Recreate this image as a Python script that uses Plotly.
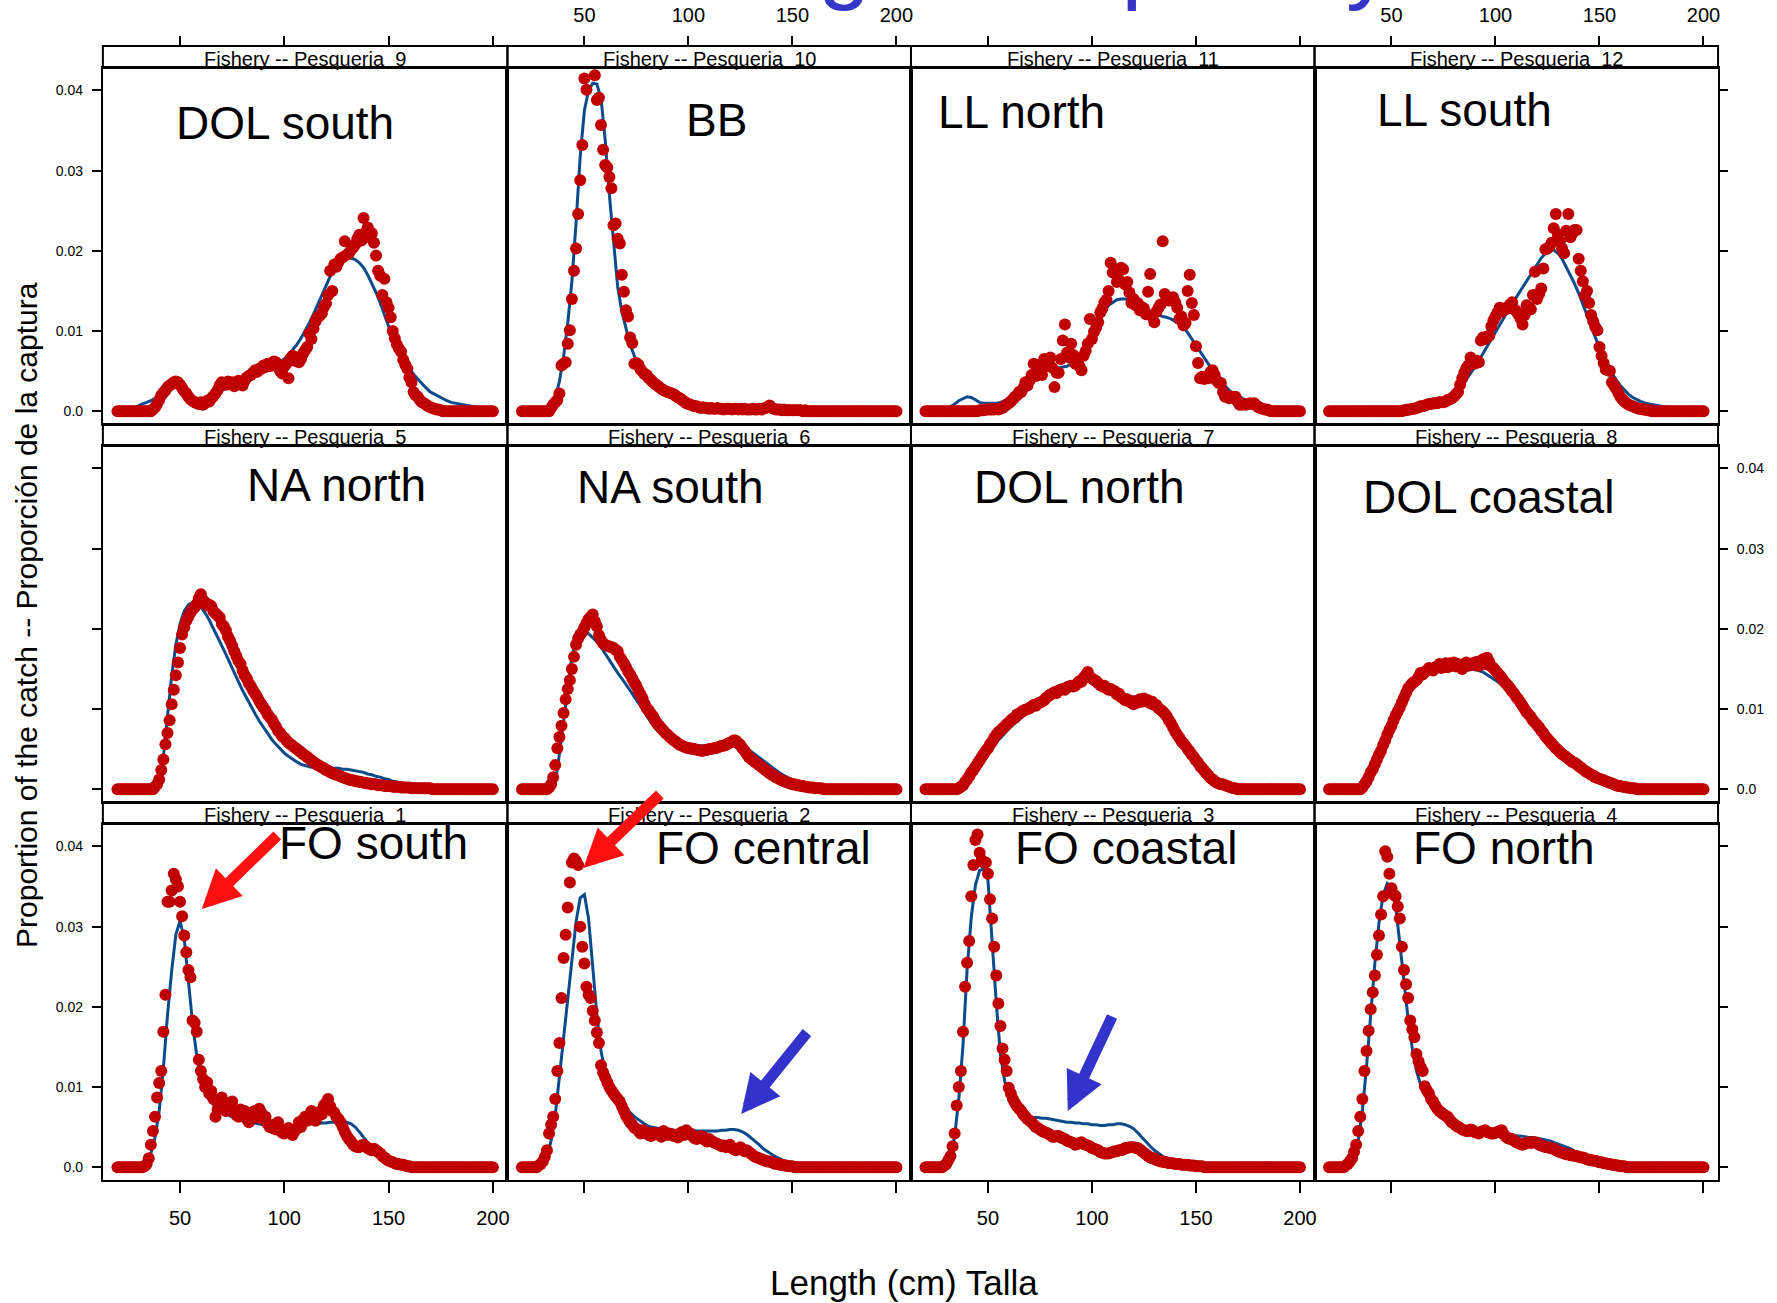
import plotly.graph_objects as go

FONT = "Liberation Sans, Arial, Helvetica, sans-serif"

# ---------------------------------------------------------------------------
# Data: proportion of the catch by length, written in units of 0.001
# ---------------------------------------------------------------------------
LENGTH_CM = list(range(20, 201))          # observed 1-cm length bins
FIT_LENGTH_CM = list(range(20, 201, 2))   # points of the fitted curve
PER_MILLE = 1000.0
X_TICKS = [50, 100, 150, 200]
Y_TICKS = [0.0, 0.01, 0.02, 0.03, 0.04]
Y_TICK_TEXT = ["0.0", "0.01", "0.02", "0.03", "0.04"]

# ---- Fishery 9 : DOL south
obs_f9 = [
    0, 0, 0, 0, 0, 0, 0, 0, 0, 0,
    0, 0, 0, 0, 0, 0, 0, 0.2, 0.5, 0.9,
    1.4, 2.0, 2.3, 2.6, 3.0, 3.2, 3.4, 3.6, 3.7, 3.6,
    3.3, 2.9, 2.5, 2.2, 1.8, 1.5, 1.3, 1.1, 1.0, 0.9,
    1.1, 0.8, 1.0, 1.3, 1.2, 1.6, 1.9, 2.2, 2.6, 3.2,
    3.6, 3.5, 3.3, 3.7, 3.4, 3.6, 3.1, 3.5, 3.8, 3.4,
    3.2, 3.8, 4.2, 4.4, 4.5, 4.8, 5.1, 4.9, 5.3, 5.3,
    5.7, 5.5, 5.9, 5.6, 5.8, 6.2, 6.1, 5.5, 5.0, 4.7,
    5.6, 5.9, 4.1, 6.6, 6.9, 6.3, 6.7, 6.1, 6.5, 7.2,
    7.6, 8.0, 9.7, 9.0, 10.3, 11.2, 11.7, 11.9, 12.2, 13.0,
    13.4, 14.5, 17.5, 15.0, 18.3, 18.0, 18.6, 19.0, 19.2, 21.2,
    19.5, 19.7, 20.1, 20.4, 20.8, 21.5, 22.0, 21.3, 24.1, 22.3,
    22.9, 21.7, 22.2, 21.0, 19.4, 17.5, 16.9, 14.5, 16.5, 13.6,
    12.9, 11.7, 10.0, 9.1, 8.3, 7.8, 7.4, 6.4, 5.8, 5.3,
    4.2, 3.6, 2.4, 2.0, 1.8, 1.4, 1.1, 1.0, 0.8, 0.6,
    0.5, 0.4, 0.3, 0.2, 0.2, 0.1, 0, 0, 0, 0,
    0, 0, 0, 0, 0, 0, 0, 0, 0, 0,
    0, 0, 0, 0, 0, 0, 0, 0, 0, 0,
    0]
fit_f9 = [
    0, 0, 0.1, 0.2, 0.4, 0.7, 0.9, 1.1, 1.3, 1.6,
    2.0, 2.5, 2.9, 3.1, 3.0, 2.7, 2.3, 1.9, 1.6, 1.5,
    1.5, 1.6, 1.8, 2.0, 2.3, 2.6, 2.9, 3.2, 3.4, 3.6,
    3.8, 4.0, 4.2, 4.4, 4.7, 4.9, 5.2, 5.5, 5.8, 6.1,
    6.5, 7.0, 7.6, 8.3, 9.1, 10.0, 11.0, 12.1, 13.3, 14.5,
    15.7, 16.8, 17.7, 18.4, 18.9, 19.1, 19.1, 18.9, 18.5, 17.9,
    17.0, 16.0, 14.8, 13.5, 12.0, 10.6, 9.3, 8.1, 7.0, 6.1,
    5.3, 4.6, 4.0, 3.4, 2.9, 2.4, 2.1, 1.8, 1.5, 1.3,
    1.1, 1.0, 0.9, 0.8, 0.7, 0.6, 0.5, 0.4, 0.4, 0.3,
    0.3]

# ---- Fishery 10 : BB  (None = no observation visible in that bin)
obs_f10 = [
    0, 0, 0, 0, 0, 0, 0, 0, 0, 0,
    0, 0, 0, 0, 0.4, 0.8, 1.1, 1.4, 2.2, 5.7,
    5.9, 6.1, 8.4, 10.1, 14.0, 17.5, 20.3, 24.6, 28.8, 33.2,
    41.5, 40.1, None, None, None, 41.9, 38.8, 39.1, 35.7, 32.6,
    30.7, 30.4, 29.2, 27.8, 23.2, 23.4, 21.5, 20.9, 17.0, 14.9,
    12.6, 11.8, 9.2, 8.5, 5.9, 6.0, 5.8, 5.2, 4.9, 4.6,
    4.5, 4.1, 3.9, 3.6, 3.4, 3.2, 3.0, 2.8, 2.6, 2.5,
    2.4, 2.3, 2.2, 2.1, 1.9, 1.7, 1.6, 1.4, 1.2, 1.0,
    0.9, 0.8, 0.7, 0.6, 0.6, 0.5, 0.4, 0.5, 0.4, 0.4,
    0.3, 0.4, 0.3, 0.3, 0.4, 0.3, 0.3, 0.2, 0.3, 0.3,
    0.3, 0.2, 0.3, 0.3, 0.2, 0.3, 0.2, 0.3, 0.2, 0.2,
    0.2, 0.3, 0.2, 0.2, 0.3, 0.2, 0.3, 0.4, 0.5, 0.7,
    0.4, 0.3, 0.2, 0.2, 0.2, 0.1, 0.2, 0.1, 0.1, 0.1,
    0.1, 0.1, 0.1, 0.1, 0.1, 0, 0.1, 0, 0, 0,
    0, 0, 0, 0, 0, 0, 0, 0, 0, 0,
    0, 0, 0, 0, 0, 0, 0, 0, 0, 0,
    0, 0, 0, 0, 0, 0, 0, 0, 0, 0,
    0, 0, 0, 0, 0, 0, 0, 0, 0, 0,
    0]
fit_f10 = [
    0, 0, 0, 0, 0, 0, 0, 0.4, 1.7, 3.7,
    6.8, 11.0, 16.2, 23.5, 31.8, 37.5, 40.0, 40.9, 40.8, 39.0,
    33.8, 27.0, 21.2, 15.5, 12.4, 10.2, 8.3, 6.9, 5.9, 5.0,
    4.3, 3.7, 3.2, 2.8, 2.5, 2.1, 1.8, 1.4, 1.1, 0.8,
    0.6, 0.5, 0.4, 0.3, 0.3, 0.2, 0.2, 0.2, 0.2, 0.2,
    0.2, 0.2, 0.2, 0.2, 0.2, 0.2, 0.1, 0.1, 0.1, 0.1,
    0.1, 0.1, 0.1, 0.1, 0.1, 0.1, 0.1, 0.1, 0.1, 0.1,
    0, 0, 0, 0, 0, 0, 0, 0, 0, 0,
    0, 0, 0, 0, 0, 0, 0, 0, 0, 0,
    0]

# ---- Fishery 11 : LL north
obs_f11 = [
    0, 0, 0, 0, 0, 0, 0, 0, 0, 0,
    0, 0, 0, 0, 0, 0, 0, 0, 0, 0,
    0, 0, 0, 0, 0, 0, 0.1, 0.1, 0.1, 0.2,
    0.2, 0.2, 0.2, 0.2, 0.3, 0.2, 0.3, 0.4, 0.6, 0.8,
    1.0, 1.2, 1.5, 1.8, 2.0, 2.4, 2.4, 2.9, 3.6, 3.2,
    3.8, 4.5, 5.9, 4.4, 5.2, 5.8, 4.5, 6.5, 5.6, 6.2,
    6.7, 5.4, 3.0, 4.8, 4.8, 6.5, 8.8, 10.8, 7.3, 6.7,
    8.4, 7.0, 5.9, 6.3, 5.6, 5.1, 6.9, 7.5, 8.4, 11.5,
    9.0, 9.9, 10.4, 11.1, 12.3, 12.8, 13.6, 13.9, 15.0, 18.5,
    17.3, 17.7, 16.1, 16.4, 17.9, 17.7, 15.8, 16.1, 14.8, 13.5,
    14.0, 13.2, 13.5, 12.6, 13.0, 12.8, 12.1, 14.9, 17.1, 11.8,
    11.1, 12.4, 12.9, 13.3, 21.2, 14.6, 14.2, 13.8, 14.0, 14.2,
    13.6, 12.9, 11.5, 11.8, 10.7, 11.0, 15.0, 17.0, 13.5, 12.0,
    8.1, 6.0, 4.1, 4.3, 4.0, 4.2, 4.1, 4.9, 5.1, 4.5,
    3.8, 3.5, 3.5, 2.4, 1.8, 1.9, 1.6, 1.8, 1.7, 1.8,
    1.2, 0.8, 0.8, 0.9, 0.8, 0.9, 1.0, 0.9, 1.0, 0.7,
    0.5, 0.4, 0.3, 0.2, 0.2, 0.1, 0, 0, 0, 0,
    0, 0, 0, 0, 0, 0, 0, 0, 0, 0,
    0]
fit_f11 = [
    0, 0, 0, 0, 0, 0.2, 0.5, 0.9, 1.3, 1.6,
    1.8, 1.7, 1.4, 1.1, 1.0, 1.0, 1.0, 1.0, 1.1, 1.3,
    1.6, 2.0, 2.4, 2.9, 3.4, 3.9, 4.4, 4.8, 5.1, 5.3,
    5.4, 5.4, 5.4, 5.5, 5.6, 5.9, 6.3, 6.8, 7.5, 8.5,
    9.5, 10.6, 11.6, 12.5, 13.2, 13.6, 13.9, 14.0, 14.0, 13.9,
    13.6, 13.3, 13.0, 12.7, 12.4, 12.2, 12.0, 11.8, 11.7, 11.5,
    11.2, 10.9, 10.5, 9.8, 9.0, 8.2, 7.4, 6.6, 5.8, 5.0,
    4.3, 3.7, 3.1, 2.6, 2.2, 1.9, 1.6, 1.3, 1.1, 0.9,
    0.7, 0.6, 0.5, 0.4, 0.3, 0.3, 0.2, 0.2, 0.1, 0.1,
    0.1]

# ---- Fishery 12 : LL south
obs_f12 = [
    0, 0, 0, 0, 0, 0, 0, 0, 0, 0,
    0, 0, 0, 0, 0, 0, 0, 0, 0, 0,
    0, 0, 0, 0, 0, 0, 0, 0, 0, 0,
    0, 0, 0, 0, 0, 0, 0.1, 0.1, 0.2, 0.2,
    0.3, 0.3, 0.4, 0.5, 0.6, 0.6, 0.7, 0.8, 0.9, 0.9,
    1.0, 1.0, 1.0, 1.1, 1.1, 1.1, 1.2, 1.4, 1.5, 1.6,
    1.8, 2.1, 2.4, 3.3, 4.1, 4.8, 5.4, 5.7, 6.7, 6.2,
    5.9, 6.3, 6.1, 8.8, 9.2, 9.0, 9.3, 9.4, 10.6, 11.3,
    11.8, 12.3, 12.9, 12.4, 12.8, 12.7, 13.0, 13.3, 13.6, 12.7,
    12.5, 12.1, 11.6, 10.8, 12.0, 13.2, 13.0, 12.7, 14.5, 17.4,
    14.0, 14.6, 15.3, 17.8, 20.2, 20.3, 20.5, 21.0, 22.8, 24.6,
    22.0, 21.2, 20.3, 19.7, 22.5, 24.6, 21.7, 22.2, 22.6, 22.6,
    19.0, 17.5, 16.2, 14.4, 15.0, 13.5, 12.0, 11.2, 10.5, 10.1,
    8.0, 6.9, 6.0, 5.2, 5.1, 5.0, 3.6, 3.2, 2.8, 2.3,
    1.8, 1.5, 1.2, 1.0, 0.8, 0.7, 0.6, 0.5, 0.4, 0.3,
    0.3, 0.2, 0.2, 0.1, 0.1, 0, 0, 0, 0, 0,
    0, 0, 0, 0, 0, 0, 0, 0, 0, 0,
    0, 0, 0, 0, 0, 0, 0, 0, 0, 0,
    0]
fit_f12 = [
    0, 0, 0.1, 0.2, 0.3, 0.4, 0.5, 0.5, 0.5, 0.5,
    0.5, 0.5, 0.5, 0.5, 0.5, 0.5, 0.5, 0.5, 0.5, 0.5,
    0.5, 0.5, 0.5, 0.6, 0.6, 0.7, 0.8, 1.0, 1.3, 1.6,
    2.0, 2.5, 3.2, 3.9, 4.7, 5.5, 6.3, 7.2, 8.1, 9.0,
    9.9, 10.8, 11.7, 12.6, 13.4, 14.2, 15.0, 15.8, 16.6, 17.5,
    18.3, 19.1, 19.7, 20.1, 20.1, 19.7, 19.0, 18.0, 17.0, 15.9,
    14.7, 13.4, 12.0, 10.6, 9.2, 7.9, 6.7, 5.6, 4.7, 3.9,
    3.2, 2.6, 2.1, 1.7, 1.4, 1.2, 1.0, 0.9, 0.8, 0.7,
    0.6, 0.5, 0.4, 0.4, 0.3, 0.3, 0.2, 0.2, 0.2, 0.1,
    0.1]

# ---- Fishery 5 : NA north
obs_f5 = [
    0, 0, 0, 0, 0, 0, 0, 0, 0, 0,
    0, 0, 0, 0, 0, 0, 0, 0, 0.3, 0.6,
    1.2, 2.4, 3.7, 5.6, 7.0, 8.6, 10.6, 12.4, 14.2, 15.8,
    17.6, 19.3, 20.2, 21.0, 21.5, 22.0, 22.4, 22.7, 23.1, 23.8,
    24.3, 23.6, 23.3, 22.9, 23.0, 22.8, 22.2, 21.9, 21.7, 21.4,
    20.6, 20.3, 19.8, 19.0, 18.5, 17.9, 17.2, 16.6, 16.0, 15.6,
    14.8, 14.2, 13.8, 13.2, 12.8, 12.3, 11.9, 11.5, 11.0, 10.6,
    10.2, 9.8, 9.3, 9.0, 8.7, 8.2, 7.8, 7.3, 7.0, 6.6,
    6.4, 6.1, 5.8, 5.6, 5.4, 5.2, 5.0, 4.8, 4.6, 4.4,
    4.2, 4.0, 3.8, 3.6, 3.4, 3.2, 3.0, 2.9, 2.7, 2.6,
    2.4, 2.3, 2.1, 2.0, 1.9, 1.8, 1.7, 1.6, 1.5, 1.4,
    1.3, 1.2, 1.1, 1.1, 1.0, 1.0, 0.9, 0.9, 0.8, 0.8,
    0.7, 0.7, 0.6, 0.6, 0.6, 0.5, 0.5, 0.5, 0.4, 0.4,
    0.4, 0.4, 0.3, 0.3, 0.3, 0.3, 0.2, 0.2, 0.2, 0.2,
    0.2, 0.1, 0.1, 0.1, 0.1, 0.1, 0.1, 0.1, 0.1, 0.1,
    0.1, 0, 0, 0, 0, 0, 0, 0, 0, 0,
    0, 0, 0, 0, 0, 0, 0, 0, 0, 0,
    0, 0, 0, 0, 0, 0, 0, 0, 0, 0,
    0]
fit_f5 = [
    0, 0, 0, 0, 0, 0, 0, 0, 0, 0.3,
    0.8, 4.0, 8.9, 14.2, 18.0, 20.6, 22.2, 23.0, 23.3, 23.2,
    22.7, 22.0, 21.1, 20.1, 19.0, 17.9, 16.8, 15.6, 14.5, 13.4,
    12.3, 11.3, 10.3, 9.4, 8.5, 7.7, 6.9, 6.2, 5.6, 5.0,
    4.5, 4.1, 3.7, 3.4, 3.1, 2.9, 2.8, 2.7, 2.6, 2.6,
    2.6, 2.6, 2.6, 2.6, 2.5, 2.5, 2.4, 2.3, 2.2, 2.1,
    1.9, 1.8, 1.6, 1.5, 1.3, 1.2, 1.0, 0.9, 0.8, 0.7,
    0.6, 0.5, 0.4, 0.3, 0.3, 0.2, 0.2, 0.1, 0.1, 0.1,
    0, 0, 0, 0, 0, 0, 0, 0, 0, 0,
    0]

# ---- Fishery 6 : NA south
obs_f6 = [
    0, 0, 0, 0, 0, 0, 0, 0, 0, 0,
    0, 0, 0, 0.2, 0.6, 1.5, 3.0, 5.1, 6.5, 7.9,
    9.5, 11.2, 12.5, 13.6, 15.0, 16.5, 18.0, 18.8, 19.3, 19.6,
    20.2, 20.7, 21.2, 21.5, 21.8, 20.9, 20.3, 19.2, 18.6, 18.2,
    18.0, 17.9, 17.8, 17.7, 17.6, 17.4, 17.2, 16.5, 16.1, 15.7,
    15.2, 14.7, 14.3, 13.8, 13.3, 12.9, 12.3, 11.8, 11.3, 10.6,
    10.1, 9.8, 9.4, 9.1, 8.6, 8.2, 7.9, 7.6, 7.3, 7.0,
    6.8, 6.5, 6.3, 6.1, 5.9, 5.7, 5.5, 5.4, 5.3, 5.2,
    5.1, 5.1, 5.0, 5.0, 4.9, 4.9, 4.8, 4.8, 4.9, 4.9,
    5.0, 5.0, 5.1, 5.1, 5.2, 5.3, 5.4, 5.4, 5.5, 5.7,
    5.8, 5.9, 6.1, 6.0, 5.7, 5.5, 5.1, 4.8, 4.4, 4.0,
    3.8, 3.6, 3.4, 3.2, 3.0, 2.8, 2.6, 2.4, 2.2, 2.0,
    1.8, 1.7, 1.5, 1.4, 1.2, 1.1, 1.0, 0.9, 0.8, 0.7,
    0.6, 0.6, 0.5, 0.5, 0.4, 0.4, 0.3, 0.3, 0.2, 0.2,
    0.2, 0.1, 0.1, 0.1, 0.1, 0, 0, 0, 0, 0,
    0, 0, 0, 0, 0, 0, 0, 0, 0, 0,
    0, 0, 0, 0, 0, 0, 0, 0, 0, 0,
    0, 0, 0, 0, 0, 0, 0, 0, 0, 0,
    0]
fit_f6 = [
    0, 0, 0, 0, 0, 0, 0, 0.1, 0.7, 4.4,
    8.5, 12.5, 16.5, 18.6, 19.5, 19.7, 19.4, 18.9, 18.4, 17.7,
    16.9, 16.1, 15.2, 14.5, 13.8, 13.1, 12.3, 11.5, 10.8, 10.0,
    9.1, 8.3, 7.6, 7.1, 6.7, 6.4, 6.1, 5.9, 5.7, 5.6,
    5.5, 5.4, 5.4, 5.4, 5.4, 5.4, 5.5, 5.5, 5.6, 5.7,
    5.8, 5.8, 5.7, 5.5, 5.1, 4.7, 4.3, 3.9, 3.5, 3.1,
    2.7, 2.4, 2.0, 1.7, 1.4, 1.1, 0.9, 0.7, 0.5, 0.4,
    0.3, 0.2, 0.2, 0.1, 0.1, 0.1, 0, 0, 0, 0,
    0, 0, 0, 0, 0, 0, 0, 0, 0, 0,
    0]

# ---- Fishery 7 : DOL north
obs_f7 = [
    0, 0, 0, 0, 0, 0, 0, 0, 0, 0,
    0, 0, 0, 0, 0, 0, 0.1, 0.3, 0.5, 0.9,
    1.2, 1.6, 2.1, 2.4, 2.8, 3.2, 3.6, 4.0, 4.4, 4.8,
    5.1, 5.6, 5.9, 6.4, 6.8, 7.1, 7.3, 7.6, 7.8, 8.1,
    8.3, 8.6, 8.8, 8.9, 9.3, 9.4, 9.6, 9.8, 9.9, 10.0,
    10.1, 10.3, 10.5, 10.4, 10.7, 10.8, 10.9, 11.1, 11.4, 11.6,
    11.8, 11.9, 12.1, 12.0, 12.3, 12.4, 12.5, 12.4, 12.7, 12.8,
    12.9, 12.8, 12.9, 13.2, 13.5, 13.4, 13.9, 14.2, 14.6, 14.0,
    13.8, 13.6, 13.5, 13.2, 13.0, 12.8, 12.9, 12.6, 12.4, 12.5,
    12.3, 12.2, 11.8, 11.9, 11.5, 11.3, 11.1, 11.2, 10.9, 10.8,
    10.6, 11.0, 10.8, 11.2, 10.9, 11.3, 11.0, 11.1, 10.7, 10.9,
    10.5, 10.5, 10.1, 9.9, 9.7, 9.4, 9.1, 8.6, 8.2, 7.7,
    7.2, 6.8, 6.4, 6.0, 5.7, 5.4, 5.0, 4.7, 4.3, 4.0,
    3.6, 3.3, 2.9, 2.6, 2.3, 2.0, 1.7, 1.4, 1.2, 1.0,
    0.8, 0.7, 0.6, 0.6, 0.5, 0.4, 0.3, 0.2, 0.1, 0.1,
    0, 0, 0, 0, 0, 0, 0, 0, 0, 0,
    0, 0, 0, 0, 0, 0, 0, 0, 0, 0,
    0, 0, 0, 0, 0, 0, 0, 0, 0, 0,
    0]
fit_f7 = [
    0, 0, 0, 0, 0, 0, 0, 0, 0, 0.1,
    0.6, 1.3, 2.0, 2.8, 3.5, 4.3, 5.1, 5.8, 6.4, 7.0,
    7.5, 8.0, 8.5, 8.9, 9.3, 9.6, 10.0, 10.3, 10.6, 11.0,
    11.3, 11.6, 11.9, 12.2, 12.5, 12.7, 12.9, 13.1, 13.3, 13.5,
    13.5, 13.3, 13.1, 12.9, 12.6, 12.4, 12.2, 12.0, 11.8, 11.6,
    11.5, 11.3, 11.1, 10.9, 10.6, 10.3, 10.0, 9.6, 9.0, 8.3,
    7.6, 6.8, 6.0, 5.2, 4.4, 3.6, 2.9, 2.2, 1.6, 1.2,
    0.9, 0.6, 0.5, 0.4, 0.3, 0.2, 0.1, 0.1, 0, 0,
    0, 0, 0, 0, 0, 0, 0, 0, 0, 0,
    0]

# ---- Fishery 8 : DOL coastal
obs_f8 = [
    0, 0, 0, 0, 0, 0, 0, 0, 0, 0,
    0, 0, 0, 0, 0, 0, 0.2, 0.6, 1.0, 1.5,
    2.1, 2.5, 3.1, 3.7, 4.3, 4.8, 5.5, 6.1, 6.8, 7.4,
    7.9, 8.6, 9.2, 9.7, 10.2, 10.8, 11.4, 12.0, 12.6, 12.9,
    13.2, 13.4, 13.6, 14.0, 14.5, 14.3, 14.6, 14.8, 15.1, 15.0,
    14.8, 15.2, 15.3, 15.6, 15.1, 15.4, 15.7, 15.2, 15.7, 15.4,
    15.8, 15.3, 15.6, 15.5, 15.0, 15.3, 15.8, 15.4, 15.6, 15.7,
    15.5, 15.9, 15.4, 16.0, 16.2, 15.6, 16.4, 15.9, 15.3, 15.1,
    14.8, 14.5, 14.2, 13.9, 13.5, 13.2, 12.9, 12.6, 12.2, 11.9,
    11.5, 11.2, 10.8, 10.4, 10.0, 9.6, 9.3, 9.0, 8.6, 8.3,
    8.0, 7.7, 7.3, 7.0, 6.6, 6.3, 6.0, 5.7, 5.4, 5.1,
    4.9, 4.6, 4.4, 4.2, 4.0, 3.8, 3.6, 3.4, 3.3, 3.1,
    2.9, 2.7, 2.5, 2.3, 2.1, 2.0, 1.8, 1.7, 1.5, 1.4,
    1.3, 1.2, 1.1, 1.0, 0.9, 0.8, 0.7, 0.6, 0.5, 0.4,
    0.4, 0.3, 0.3, 0.2, 0.2, 0.1, 0.1, 0.1, 0, 0,
    0, 0, 0, 0, 0, 0, 0, 0, 0, 0,
    0, 0, 0, 0, 0, 0, 0, 0, 0, 0,
    0, 0, 0, 0, 0, 0, 0, 0, 0, 0,
    0]
fit_f8 = [
    0, 0, 0, 0, 0, 0, 0, 0, 0.2, 0.7,
    1.6, 2.6, 3.6, 4.8, 6.0, 7.2, 8.4, 9.5, 10.6, 11.6,
    12.5, 13.3, 13.9, 14.3, 14.6, 14.8, 15.0, 15.0, 15.0, 15.0,
    15.0, 15.0, 15.0, 15.0, 15.0, 14.9, 14.8, 14.6, 14.3, 13.9,
    13.6, 13.2, 12.8, 12.4, 11.9, 11.4, 10.8, 10.2, 9.6, 9.0,
    8.4, 7.8, 7.2, 6.7, 6.1, 5.6, 5.1, 4.6, 4.2, 3.7,
    3.3, 2.9, 2.5, 2.1, 1.8, 1.5, 1.2, 1.0, 0.8, 0.6,
    0.5, 0.4, 0.3, 0.2, 0.2, 0.1, 0.1, 0, 0, 0,
    0, 0, 0, 0, 0, 0, 0, 0, 0, 0,
    0]

# ---- Fishery 1 : FO south
obs_f1 = [
    0, 0, 0, 0, 0, 0, 0, 0, 0, 0,
    0, 0, 0, 0.1, 0.4, 1.1, 2.8, 4.5, 6.3, 8.7,
    10.5, 12.0, 16.9, 21.5, 33.1, 33.1, 34.5, 36.6, 35.9, 35.0,
    33.1, 31.3, 28.9, 26.8, 24.6, 23.7, 18.3, 18.0, 16.9, 13.4,
    12.0, 11.0, 10.0, 10.6, 9.2, 9.5, 8.5, 6.3, 7.2, 7.8,
    8.7, 7.5, 7.0, 7.7, 8.0, 8.2, 6.9, 6.5, 6.3, 7.2,
    6.6, 7.0, 6.0, 5.6, 6.4, 6.9, 7.0, 6.2, 7.3, 6.8,
    6.0, 6.3, 5.4, 5.0, 4.9, 5.3, 4.7, 5.6, 4.8, 4.3,
    4.2, 4.6, 4.9, 4.4, 4.0, 4.5, 4.8, 5.6, 5.0, 5.9,
    6.3, 5.8, 6.5, 7.0, 6.1, 5.8, 6.3, 6.9, 6.6, 7.7,
    8.0, 8.5, 7.6, 7.0, 6.8, 6.3, 6.0, 5.6, 5.0, 4.4,
    3.9, 3.5, 3.2, 2.8, 2.6, 2.5, 2.5, 2.7, 2.8, 2.6,
    2.4, 2.2, 2.1, 2.3, 2.1, 1.9, 1.7, 1.4, 1.2, 1.0,
    0.8, 0.7, 0.6, 0.5, 0.4, 0.4, 0.3, 0.3, 0.2, 0.1,
    0.1, 0, 0, 0, 0, 0, 0, 0, 0, 0,
    0, 0, 0, 0, 0, 0, 0, 0, 0, 0,
    0, 0, 0, 0, 0, 0, 0, 0, 0, 0,
    0, 0, 0, 0, 0, 0, 0, 0, 0, 0,
    0]
fit_f1 = [
    0, 0, 0, 0, 0, 0, 0.1, 0.5, 1.7, 3.7,
    7.0, 12.3, 19.0, 24.5, 29.0, 30.7, 28.5, 23.4, 18.0, 13.9,
    11.0, 9.3, 8.4, 7.8, 7.4, 7.0, 6.7, 6.4, 6.1, 5.9,
    5.8, 5.7, 5.6, 5.5, 5.4, 5.3, 5.3, 5.2, 5.2, 5.2,
    5.2, 5.2, 5.2, 5.2, 5.3, 5.3, 5.4, 5.4, 5.4, 5.5,
    5.5, 5.6, 5.6, 5.6, 5.6, 5.6, 5.4, 5.0, 4.4, 3.7,
    3.0, 2.4, 1.8, 1.4, 1.0, 0.8, 0.6, 0.4, 0.3, 0.2,
    0.1, 0.1, 0, 0, 0, 0, 0, 0, 0, 0,
    0, 0, 0, 0, 0, 0, 0, 0, 0, 0,
    0]

# ---- Fishery 2 : FO central
obs_f2 = [
    0, 0, 0, 0, 0, 0, 0, 0, 0.2, 0.4,
    0.7, 1.3, 2.1, 4.2, 5.3, 6.3, 8.5, 12.0, 15.5, 21.1,
    26.1, 29.0, 32.4, 35.5, 38.0, 38.5, 38.2, 37.7, 30.0, 27.5,
    25.4, 22.5, 21.5, 21.1, 19.5, 18.3, 16.8, 15.5, 12.7, 11.8,
    11.2, 10.6, 10.0, 9.6, 9.2, 8.8, 8.5, 8.2, 7.6, 7.0,
    6.4, 6.0, 5.6, 5.3, 4.9, 4.8, 4.5, 4.2, 4.6, 4.5,
    4.2, 4.0, 3.9, 4.3, 4.1, 4.2, 4.0, 3.8, 4.5, 4.3,
    4.0, 4.2, 4.1, 3.9, 4.0, 3.7, 4.2, 4.4, 4.0, 4.6,
    4.2, 4.2, 3.9, 3.6, 3.5, 3.7, 3.9, 3.8, 3.4, 3.2,
    3.5, 3.3, 3.1, 3.0, 2.9, 2.8, 2.6, 2.7, 2.5, 2.6,
    2.8, 2.4, 2.2, 2.1, 2.3, 2.5, 2.2, 2.0, 2.1, 1.9,
    1.7, 1.5, 1.3, 1.2, 1.1, 1.0, 0.9, 0.8, 0.7, 0.7,
    0.6, 0.5, 0.4, 0.4, 0.3, 0.3, 0.2, 0.2, 0.1, 0.1,
    0.1, 0, 0, 0, 0, 0, 0, 0, 0, 0,
    0, 0, 0, 0, 0, 0, 0, 0, 0, 0,
    0, 0, 0, 0, 0, 0, 0, 0, 0, 0,
    0, 0, 0, 0, 0, 0, 0, 0, 0, 0,
    0, 0, 0, 0, 0, 0, 0, 0, 0, 0,
    0]
fit_f2 = [
    0, 0, 0, 0, 0, 0.4, 1.2, 3.3, 6.5, 11.3,
    16.2, 21.6, 26.3, 30.6, 33.6, 34.0, 31.0, 24.8, 19.0, 14.5,
    11.8, 10.2, 9.3, 8.5, 7.9, 7.3, 6.8, 6.3, 5.9, 5.5,
    5.2, 5.0, 4.9, 4.8, 4.7, 4.6, 4.6, 4.6, 4.5, 4.5,
    4.5, 4.5, 4.5, 4.5, 4.5, 4.5, 4.5, 4.5, 4.6, 4.6,
    4.7, 4.7, 4.6, 4.4, 4.1, 3.7, 3.3, 2.8, 2.3, 1.9,
    1.6, 1.3, 1.0, 0.8, 0.6, 0.5, 0.4, 0.3, 0.2, 0.2,
    0.1, 0.1, 0, 0, 0, 0, 0, 0, 0, 0,
    0, 0, 0, 0, 0, 0, 0, 0, 0, 0,
    0]

# ---- Fishery 3 : FO coastal
obs_f3 = [
    0, 0, 0, 0, 0, 0, 0, 0, 0, 0.2,
    0.4, 0.9, 1.4, 2.6, 4.2, 7.7, 10.0, 12.0, 16.9, 22.5,
    25.5, 28.2, 33.8, 37.7, 40.8, 41.5, 39.2, 38.3, 38.0, 38.0,
    36.6, 33.4, 31.0, 27.5, 23.9, 20.4, 17.6, 14.8, 13.4, 12.0,
    9.9, 9.2, 8.5, 8.0, 7.6, 7.3, 7.0, 6.6, 6.3, 6.0,
    5.8, 5.6, 5.3, 5.0, 4.9, 4.7, 4.5, 4.4, 4.3, 4.2,
    4.0, 3.8, 3.8, 3.9, 3.9, 3.7, 3.6, 3.5, 3.3, 3.2,
    3.1, 3.0, 2.8, 2.9, 3.0, 3.1, 2.9, 2.8, 2.7, 2.6,
    2.4, 2.3, 2.2, 2.1, 1.9, 1.8, 1.7, 1.7, 1.7, 1.8,
    1.9, 2.0, 2.0, 2.1, 2.1, 2.2, 2.4, 2.4, 2.5, 2.5,
    2.5, 2.4, 2.4, 2.2, 2.0, 1.8, 1.6, 1.4, 1.2, 1.1,
    1.1, 0.9, 0.8, 0.7, 0.7, 0.6, 0.6, 0.5, 0.5, 0.5,
    0.4, 0.4, 0.4, 0.3, 0.3, 0.3, 0.3, 0.2, 0.2, 0.2,
    0.1, 0.1, 0.1, 0.1, 0, 0, 0, 0, 0, 0,
    0, 0, 0, 0, 0, 0, 0, 0, 0, 0,
    0, 0, 0, 0, 0, 0, 0, 0, 0, 0,
    0, 0, 0, 0, 0, 0, 0, 0, 0, 0,
    0, 0, 0, 0, 0, 0, 0, 0, 0, 0,
    0]
fit_f3 = [
    0, 0, 0, 0, 0, 0.3, 1.2, 3.9, 8.5, 15.2,
    24.7, 31.2, 35.2, 37.0, 37.2, 35.8, 28.0, 20.5, 14.1, 10.8,
    8.8, 7.6, 7.0, 6.6, 6.4, 6.3, 6.2, 6.2, 6.1, 6.1,
    6.0, 5.9, 5.8, 5.7, 5.6, 5.6, 5.5, 5.5, 5.4, 5.4,
    5.3, 5.3, 5.2, 5.2, 5.3, 5.3, 5.4, 5.4, 5.3, 5.1,
    4.8, 4.3, 3.7, 3.1, 2.6, 2.1, 1.7, 1.3, 1.0, 0.8,
    0.7, 0.5, 0.4, 0.3, 0.3, 0.3, 0.2, 0.2, 0.1, 0.1,
    0.1, 0, 0, 0, 0, 0, 0, 0, 0, 0,
    0, 0, 0, 0, 0, 0, 0, 0, 0, 0,
    0]

# ---- Fishery 4 : FO north
obs_f4 = [
    0, 0, 0, 0, 0, 0, 0, 0, 0.2, 0.4,
    0.7, 1.1, 1.9, 2.8, 4.5, 6.3, 8.5, 12.0, 14.5, 17.0,
    19.7, 21.8, 23.9, 26.5, 28.9, 31.5, 33.8, 39.4, 38.7, 36.6,
    34.8, 34.0, 33.8, 32.5, 31.0, 27.5, 24.6, 22.8, 21.1, 18.3,
    17.2, 16.2, 14.1, 13.2, 12.5, 12.0, 10.1, 9.6, 9.2, 8.5,
    8.2, 7.7, 7.3, 7.0, 6.8, 6.6, 6.4, 6.3, 5.9, 5.6,
    5.4, 5.2, 5.0, 4.9, 4.7, 4.6, 4.5, 4.5, 4.7, 4.6,
    4.4, 4.3, 4.2, 4.4, 4.5, 4.6, 4.4, 4.3, 4.2, 4.2,
    4.3, 4.4, 4.5, 4.6, 4.1, 3.8, 3.6, 3.5, 3.5, 3.3,
    3.1, 3.0, 2.9, 2.8, 2.9, 3.0, 3.1, 3.0, 3.1, 3.1,
    3.0, 2.8, 2.7, 2.6, 2.5, 2.5, 2.4, 2.4, 2.3, 2.1,
    2.0, 1.9, 1.8, 1.7, 1.6, 1.6, 1.5, 1.5, 1.4, 1.4,
    1.3, 1.2, 1.2, 1.1, 1.0, 0.9, 0.9, 0.8, 0.8, 0.7,
    0.6, 0.6, 0.5, 0.5, 0.4, 0.4, 0.3, 0.3, 0.2, 0.2,
    0.1, 0.1, 0.1, 0, 0, 0, 0, 0, 0, 0,
    0, 0, 0, 0, 0, 0, 0, 0, 0, 0,
    0, 0, 0, 0, 0, 0, 0, 0, 0, 0,
    0, 0, 0, 0, 0, 0, 0, 0, 0, 0,
    0]
fit_f4 = [
    0, 0, 0, 0, 0, 0.3, 1.4, 3.2, 7.0, 12.5,
    19.0, 25.4, 30.5, 34.0, 35.4, 34.9, 32.6, 27.8, 22.9, 18.5,
    14.8, 12.0, 10.3, 9.2, 8.5, 7.9, 7.4, 7.0, 6.6, 6.2,
    5.8, 5.5, 5.2, 5.0, 4.8, 4.7, 4.6, 4.5, 4.4, 4.3,
    4.2, 4.1, 4.1, 4.0, 4.0, 3.9, 3.9, 3.8, 3.7, 3.7,
    3.6, 3.5, 3.4, 3.3, 3.1, 2.9, 2.7, 2.5, 2.3, 2.0,
    1.8, 1.5, 1.3, 1.1, 0.9, 0.7, 0.5, 0.4, 0.3, 0.2,
    0.2, 0.1, 0.1, 0, 0, 0, 0, 0, 0, 0,
    0, 0, 0, 0, 0, 0, 0, 0, 0, 0,
    0]

# Panels in lattice order (top-left first): fishery number and gear label
PANELS = [
    (9, "DOL south", obs_f9, fit_f9), (10, "BB", obs_f10, fit_f10),
    (11, "LL north", obs_f11, fit_f11), (12, "LL south", obs_f12, fit_f12),
    (5, "NA north", obs_f5, fit_f5), (6, "NA south", obs_f6, fit_f6),
    (7, "DOL north", obs_f7, fit_f7), (8, "DOL coastal", obs_f8, fit_f8),
    (1, "FO south", obs_f1, fit_f1), (2, "FO central", obs_f2, fit_f2),
    (3, "FO coastal", obs_f3, fit_f3), (4, "FO north", obs_f4, fit_f4),
]

# ---------------------------------------------------------------------------
# Layout geometry (pixels of the 1777 x 1303 page)
# ---------------------------------------------------------------------------
W, H = 1777, 1303
COL_PX = [103, 508, 912, 1316, 1720]
PANEL_PX = [(68, 424), (446, 802), (824, 1180)]
STRIP_PX = [(46, 68), (424, 446), (802, 824)]
X_RANGE = [13, 207]
Y_RANGE = [-0.0016, 0.0428]
TITLE_PX = [(285, 123), (717, 120), (1023, 112), (1466, 110),
            (337, 485), (671, 487), (1081, 487), (1490, 497),
            (374, 843), (764, 848), (1127, 848), (1506, 848)]

RED = "#c00000"
BLUE_LINE = "#0b4b8c"


def fx(px):
    return px / W


def fy(py):
    return 1 - py / H


def scaled(vals):
    return [None if v is None else v / PER_MILLE for v in vals]


for fish, name, obs, fit in PANELS:
    if len(obs) != len(LENGTH_CM) or len(fit) != len(FIT_LENGTH_CM):
        raise ValueError(f"length mismatch fishery {fish}: {len(obs)} {len(fit)}")

fig = go.Figure()
layout = dict(
    width=W, height=H, margin=dict(l=0, r=0, t=0, b=0),
    paper_bgcolor="white", plot_bgcolor="white", showlegend=False,
    font=dict(family=FONT, color="black"), hovermode=False,
)
annotations = []
shapes = []
tick_font_x = dict(family=FONT, size=20, color="black")
tick_font_y = dict(family=FONT, size=14, color="black")

for k, (fish, name, obs, fit) in enumerate(PANELS):
    r, c = divmod(k, 4)
    i = k + 1
    s = "" if i == 1 else str(i)
    xa = dict(domain=[fx(COL_PX[c]), fx(COL_PX[c + 1])], range=X_RANGE,
              anchor="y" + s, showgrid=False, zeroline=False, showline=True,
              mirror=True, linecolor="black", linewidth=2, fixedrange=True)
    if r == 2:
        xa.update(ticks="outside", ticklen=11, tickwidth=2, tickcolor="black",
                  tickmode="array", tickvals=X_TICKS,
                  showticklabels=(c % 2 == 0), tickfont=tick_font_x,
                  ticklabelstandoff=8)
    else:
        xa.update(ticks="", showticklabels=False)
    ya = dict(domain=[fy(PANEL_PX[r][1]), fy(PANEL_PX[r][0])], range=Y_RANGE,
              anchor="x" + s, showgrid=False, zeroline=False, showline=True,
              mirror=True, linecolor="black", linewidth=2, fixedrange=True)
    if c == 0:
        ya.update(side="left", ticks="outside", ticklen=9, tickwidth=2,
                  tickcolor="black", tickmode="array", tickvals=Y_TICKS,
                  ticktext=Y_TICK_TEXT, showticklabels=(r != 1),
                  tickfont=tick_font_y, ticklabelstandoff=6)
    elif c == 3:
        ya.update(side="right", ticks="outside", ticklen=8, tickwidth=2,
                  tickcolor="black", tickmode="array", tickvals=Y_TICKS,
                  ticktext=Y_TICK_TEXT, showticklabels=(r == 1),
                  tickfont=tick_font_y, ticklabelstandoff=6)
    else:
        ya.update(ticks="", showticklabels=False)
    layout["xaxis" + s] = xa
    layout["yaxis" + s] = ya

    fig.add_trace(go.Scatter(
        x=FIT_LENGTH_CM, y=scaled(fit), mode="lines",
        line=dict(color=BLUE_LINE, width=3), xaxis="x" + s, yaxis="y" + s,
        hoverinfo="skip"))
    fig.add_trace(go.Scatter(
        x=LENGTH_CM, y=scaled(obs), mode="markers",
        marker=dict(color=RED, size=12, line=dict(width=0)),
        xaxis="x" + s, yaxis="y" + s, hoverinfo="skip"))

    # strip
    shapes.append(dict(type="rect", xref="paper", yref="paper",
                       x0=fx(COL_PX[c]), x1=fx(COL_PX[c + 1]),
                       y0=fy(STRIP_PX[r][1]), y1=fy(STRIP_PX[r][0]),
                       line=dict(color="black", width=2),
                       fillcolor="rgba(0,0,0,0)"))
    annotations.append(dict(
        text=f"Fishery -- Pesqueria  {fish}", xref="paper", yref="paper",
        x=fx((COL_PX[c] + COL_PX[c + 1]) / 2), y=fy(STRIP_PX[r][1] - 9),
        xanchor="center", yanchor="middle", showarrow=False,
        font=dict(family=FONT, size=20, color="black")))
    tx, ty = TITLE_PX[k]
    annotations.append(dict(
        text=name, xref="paper", yref="paper", x=fx(tx), y=fy(ty),
        xanchor="center", yanchor="middle", showarrow=False,
        font=dict(family=FONT, size=46, color="black")))

# top tick axes above the first row of strips
for c in range(4):
    j = 13 + c
    base = "" if c == 0 else str(c + 1)
    layout[f"xaxis{j}"] = dict(
        overlaying="x" + base, side="top", anchor="free",
        position=fy(STRIP_PX[0][0]), range=X_RANGE, showgrid=False,
        zeroline=False, showline=False, ticks="outside", ticklen=10,
        tickwidth=2, tickcolor="black", tickmode="array", tickvals=X_TICKS,
        showticklabels=(c % 2 == 1), tickfont=tick_font_x,
        ticklabelstandoff=6, fixedrange=True)
    fig.add_trace(go.Scatter(x=[None], y=[None], mode="markers",
                             xaxis=f"x{j}", yaxis="y" + base,
                             hoverinfo="skip"))

# axis titles
annotations.append(dict(text="Length (cm) Talla", xref="paper", yref="paper",
                        x=fx(905), y=fy(1282), xanchor="center",
                        yanchor="middle", showarrow=False,
                        font=dict(family=FONT, size=35, color="black")))
annotations.append(dict(
    text="Proportion of the catch -- Proporción de la captura",
    xref="paper", yref="paper", x=fx(27), y=fy(615), xanchor="center",
    yanchor="middle", textangle=-90, showarrow=False,
    font=dict(family=FONT, size=30, color="black")))

# slide title, cut by the top edge of the picture
annotations.append(dict(text="Fits to the length-frequency data",
                        xref="paper", yref="paper", x=fx(252), y=fy(13),
                        xanchor="left", yanchor="bottom", showarrow=False,
                        font=dict(family=FONT, size=94, color="#3535c8")))

# highlight arrows: (tip x, tip y, tail dx, tail dy, colour)
ARROWS = [(202, 909, 77, -75, "#ff1010"), (584, 868, 78, -75, "#ff1010"),
          (742, 1114, 67, -83, "#3333cc"), (1069, 1111, 45, -96, "#3333cc")]
for ax_, ay_, dx, dy, col in ARROWS:
    annotations.append(dict(text="", xref="paper", yref="paper",
                            x=fx(ax_), y=fy(ay_), ax=dx, ay=dy,
                            axref="pixel", ayref="pixel", showarrow=True,
                            arrowhead=2, arrowsize=0.7, arrowwidth=11,
                            arrowcolor=col, standoff=0))

layout["annotations"] = annotations
layout["shapes"] = shapes
fig.update_layout(**layout)

fig.write_html("out.html", config={"displayModeBar": False},
               post_script="document.body.style.margin='0';")
